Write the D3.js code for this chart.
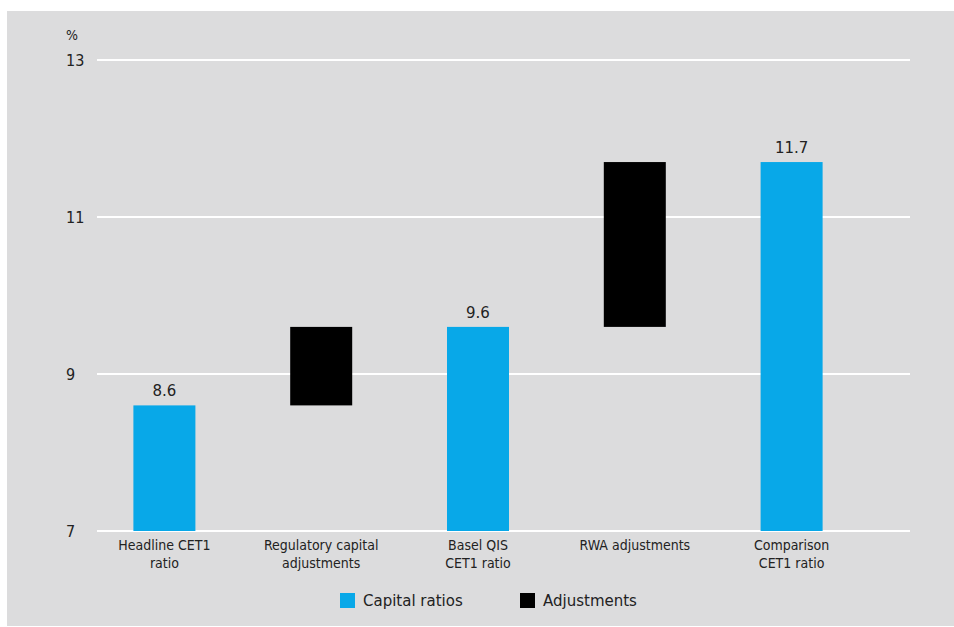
<!DOCTYPE html>
<html><head><meta charset="utf-8">
<script src="https://cdn.jsdelivr.net/npm/d3@7"></script>
<style>
body{margin:0;background:#fff;}
svg text{fill:#222;}
</style></head>
<body>
<svg id="c" width="954" height="627"></svg>
<script>
const categories = [["Headline CET1","ratio"],["Regulatory capital","adjustments"],["Basel QIS","CET1 ratio"],["RWA adjustments"],["Comparison","CET1 ratio"]];
const barStart = [7, 8.6, 7, 9.6, 7];
const barEnd = [8.6, 9.6, 9.6, 11.7, 11.7];
const barType = ["ratio","adj","ratio","adj","ratio"];
const valueLabels = ["8.6", null, "9.6", null, "11.7"];
const yTicks = [7, 9, 11, 13];
const legendItems = [["Capital ratios","ratio"],["Adjustments","adj"]];
const colors = {ratio:"#08a8e8", adj:"#000000"};

const svg = d3.select("#c");
svg.append("rect").attr("x",7).attr("y",11).attr("width",947).attr("height",615).attr("fill","#dcdcdd");

const y = d3.scaleLinear().domain([7,13]).range([531,60]);
const x = d3.scaleBand().domain(d3.range(categories.length)).range([86,870]).paddingInner(0.6).paddingOuter(0.3);
const condensed = "DejaVu Sans Condensed, DejaVu Sans, sans-serif";

// gridlines
svg.append("g").selectAll("line").data(yTicks).join("line")
  .attr("x1",97).attr("x2",910).attr("y1",d=>y(d)).attr("y2",d=>y(d))
  .attr("stroke","#fff").attr("stroke-width",2);

// y axis labels
const yAxis = d3.axisLeft(y).tickValues(yTicks).tickFormat(d3.format("d")).tickSize(0).tickPadding(0);
const gy = svg.append("g").attr("transform","translate(66,0)").call(yAxis);
gy.select(".domain").remove();
gy.selectAll("text").attr("text-anchor","start").attr("font-family",condensed).attr("font-size",16).attr("fill","#222");
svg.append("text").attr("x",66).attr("y",40).attr("font-family",condensed).attr("font-size",14).text("%");

// bars
const bw = 62;
svg.append("g").selectAll("rect").data(categories).join("rect")
  .attr("x",(d,i)=>x(i)+x.bandwidth()/2-bw/2).attr("width",bw)
  .attr("y",(d,i)=>y(barEnd[i])).attr("height",(d,i)=>y(barStart[i])-y(barEnd[i]))
  .attr("fill",(d,i)=>colors[barType[i]]);

// value labels
svg.append("g").selectAll("text").data(valueLabels).join("text")
  .filter(d=>d!==null)
  .attr("x",d=>x(valueLabels.indexOf(d))+x.bandwidth()/2)
  .attr("y",d=>y(barEnd[valueLabels.indexOf(d)])-9)
  .attr("text-anchor","middle").attr("font-family","DejaVu Sans, sans-serif").attr("font-size",15)
  .text(d=>d);

// category labels
const gx = svg.append("g");
categories.forEach((lines,i)=>{
  const t = gx.append("text").attr("x",x(i)+x.bandwidth()/2).attr("y",550)
    .attr("text-anchor","middle").attr("font-family",condensed).attr("font-size",14);
  lines.forEach((l,j)=>t.append("tspan").attr("x",x(i)+x.bandwidth()/2).attr("dy",j?18:0).text(l));
});

// legend
const lg = svg.append("g");
const lx = [340, 520];
legendItems.forEach((it,i)=>{
  lg.append("rect").attr("x",lx[i]).attr("y",593).attr("width",15).attr("height",15).attr("fill",colors[it[1]]);
  lg.append("text").attr("x",lx[i]+23).attr("y",606).attr("font-family","DejaVu Sans, sans-serif").attr("font-size",15).text(it[0]);
});
</script>
</body></html>
